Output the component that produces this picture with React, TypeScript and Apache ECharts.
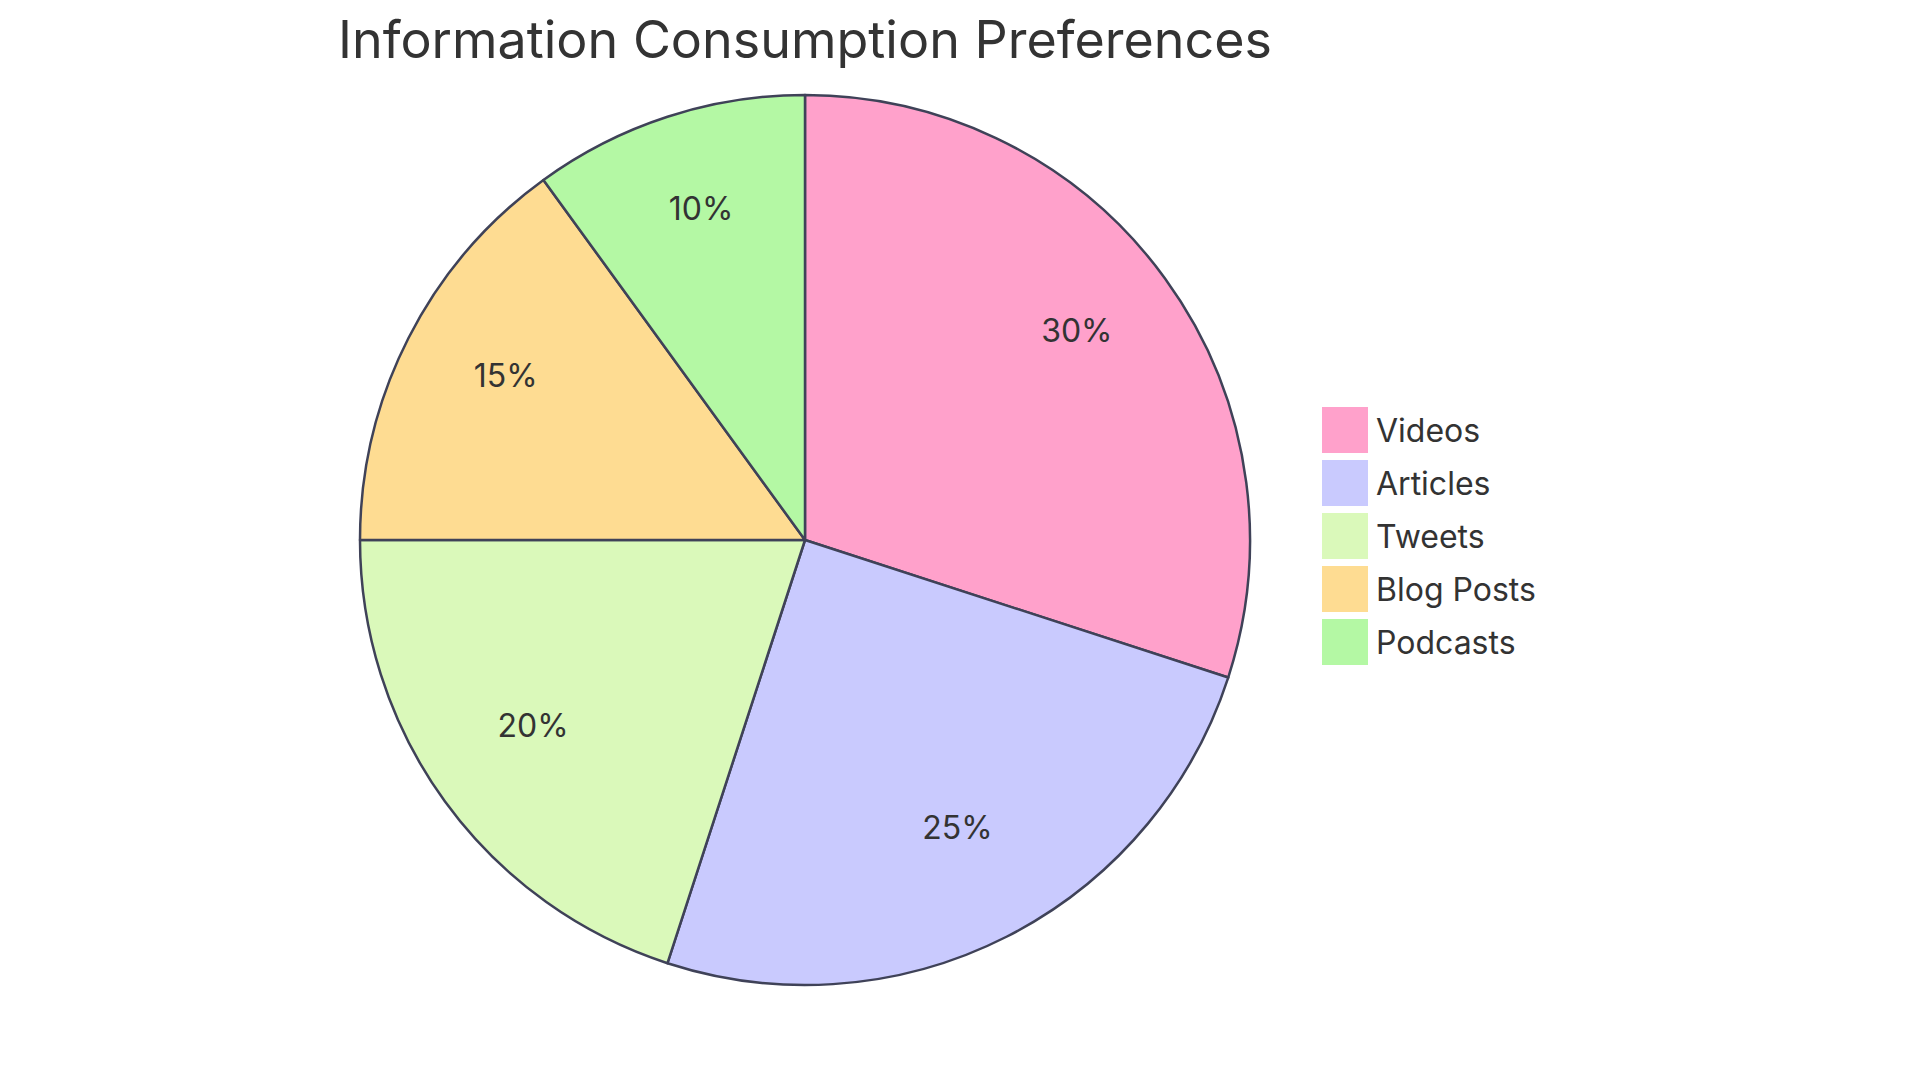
import React, { useEffect, useRef } from "react";
import * as echarts from "echarts";

const categories = ["Videos", "Articles", "Tweets", "Blog Posts", "Podcasts"];
const values = [30, 25, 20, 15, 10];
const colors = ["#FFA1CB", "#C9CAFE", "#DAF9BA", "#FEDC92", "#B4F8A4"];
const titleText = "Information Consumption Preferences";

const FONT = "Inter, 'Noto Sans', sans-serif";

export default function App() {
  const ref = useRef<HTMLDivElement>(null);
  useEffect(() => {
    if (!ref.current) return;
    const chart = echarts.init(ref.current, undefined, { renderer: "svg" });
    const data = categories.map((name, i) => ({
      name,
      value: values[i],
      itemStyle: { color: colors[i] },
    }));
    chart.setOption({
      animation: false,
      backgroundColor: "#ffffff",
      title: {
        text: titleText,
        left: 805,
        top: 13,
        padding: 0,
        textAlign: "center",
        textStyle: {
          fontFamily: FONT,
          fontSize: 52,
          fontWeight: "normal",
          color: "#333333",
        },
      },
      legend: {
        orient: "vertical",
        left: 1322,
        top: 407,
        padding: 0,
        itemWidth: 46,
        itemHeight: 46,
        itemGap: 7,
        icon: "rect",
        data: categories,
        itemStyle: { borderWidth: 0 },
        textStyle: {
          fontFamily: FONT,
          fontSize: 32,
          color: "#333333",
          padding: [0, 0, 0, 3],
        },
        selectedMode: false,
      },
      series: [
        {
          type: "pie",
          center: [805, 540],
          radius: [0, 445],
          startAngle: 90,
          clockwise: true,
          label: { show: false },
          labelLine: { show: false },
          emphasis: { disabled: true },
          itemStyle: { borderColor: "#3f4258", borderWidth: 2.5 },
          data,
        },
        {
          type: "pie",
          center: [805, 540],
          radius: [221, 445],
          startAngle: 90,
          clockwise: true,
          silent: true,
          emphasis: { disabled: true },
          itemStyle: { color: "rgba(0,0,0,0)", borderWidth: 0 },
          label: {
            show: true,
            position: "inside",
            offset: [0, -12],
            formatter: (p: any) => Math.round(p.percent) + "%",
            fontFamily: FONT,
            fontSize: 32,
            color: "#333333",
          },
          labelLine: { show: false },
          data: categories.map((name, i) => ({ name, value: values[i] })),
        },
      ],
    });
    return () => chart.dispose();
  }, []);
  return (
    <div
      ref={ref}
      style={{ position: "fixed", left: 0, top: 0, width: 1920, height: 1080 }}
    />
  );
}
